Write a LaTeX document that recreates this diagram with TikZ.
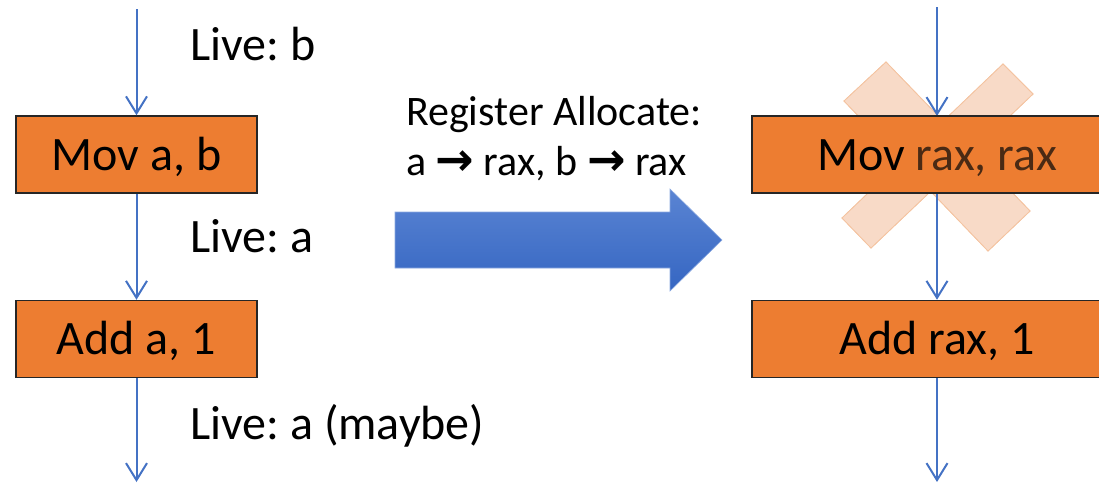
\documentclass[tikz,border=0pt]{standalone}
\usepackage{fontspec}
\setmainfont{Carlito}
\newfontfamily\dejavu{DejaVu Sans}
\usetikzlibrary{arrows.meta}
\frenchspacing
\definecolor{boxorange}{HTML}{ED7D31}
\definecolor{linkblue}{HTML}{4472C4}
\definecolor{xpeach}{HTML}{F8DAC7}
\definecolor{xedge}{HTML}{F4C3A0}
\definecolor{raxbrown}{HTML}{4A2A14}
\definecolor{bigtop}{HTML}{5A84D3}
\definecolor{bigbot}{HTML}{3566C2}
\tikzset{
  instr/.style={draw=black!85, line width=1.5pt, fill=boxorange, minimum height=77pt,
    inner sep=0pt, text height=31pt, text depth=0pt, font=\fontsize{48}{52}\selectfont},
  flow/.style={draw=linkblue, line width=2pt,
    -{Straight Barb[length=17pt,width=21pt,line width=2pt]}},
  lbl/.style={anchor=base west, inner sep=0pt, font=\fontsize{48}{52}\selectfont},
  midlbl/.style={anchor=base west, inner sep=0pt, font=\fontsize{42}{46}\selectfont},
  xbar/.style={fill=xpeach, draw=xedge, line width=0.8pt},
  bigarrow/.style={top color=bigtop, bottom color=bigbot, draw=bigtop!70!white, line width=0.6pt},
}
\newcommand{\myarr}{{\dejavu\bfseries\fontsize{46}{46}\selectfont →}}
\begin{document}
\begin{tikzpicture}[x=1pt,y=-1pt]
\useasboundingbox (0,0) rectangle (1099,483);

% cross behind the crossed-out instruction
\fill[xbar] (844,101) -- (886,62) -- (1030,211) -- (988,251) -- cycle;
\fill[xbar] (1003,64) -- (1033,94) -- (871,248) -- (842,218) -- cycle;
\draw[xbar] (844,101) -- (886,62) -- (1030,211) -- (988,251) -- cycle;
\draw[xbar] (1003,64) -- (1033,94) -- (871,248) -- (842,218) -- cycle;

% left column
\node[instr, minimum width=241pt] (L1) at (136.5,154.5) {Mov a, b};
\node[instr, minimum width=241pt] (L2) at (136.5,339) {Add a, 1};
\coordinate (Ltop) at (136.5,9);
\coordinate (Lbot) at (136.5,482);
\draw[flow] (Ltop) -- (L1.north);
\draw[flow] (L1.south) -- (L2.north);
\draw[flow] (L2.south) -- (Lbot);

\node[lbl] (lb) at (190,60) {Live: b};
\node[lbl] (la) at (190,252) {Live: a};
\node[lbl] (lm) at (190,439) {Live: a (maybe)};

% middle
\node[midlbl] (ra1) at (406,125) {Register Allocate:};
\node[midlbl] (ra2) at (406,175) {a \myarr{} rax, b \myarr{} rax};
\path[bigarrow] (395,212) -- (670,212) -- (670,189) -- (722,240) -- (670,291)
  -- (670,268) -- (395,268) -- cycle;

% right column
\coordinate (Rtop) at (937,7);
\coordinate (Rbot) at (937,482);
\draw[flow] (Rtop) -- (937,116);
\node[instr, minimum width=370pt] (R1) at (937,154.5) {Mov \textcolor{raxbrown}{rax, rax}};
\node[instr, minimum width=370pt] (R2) at (937,339) {Add rax, 1};
\draw[flow] (R1.south) -- (R2.north);
\draw[flow] (R2.south) -- (Rbot);
\end{tikzpicture}
\end{document}
